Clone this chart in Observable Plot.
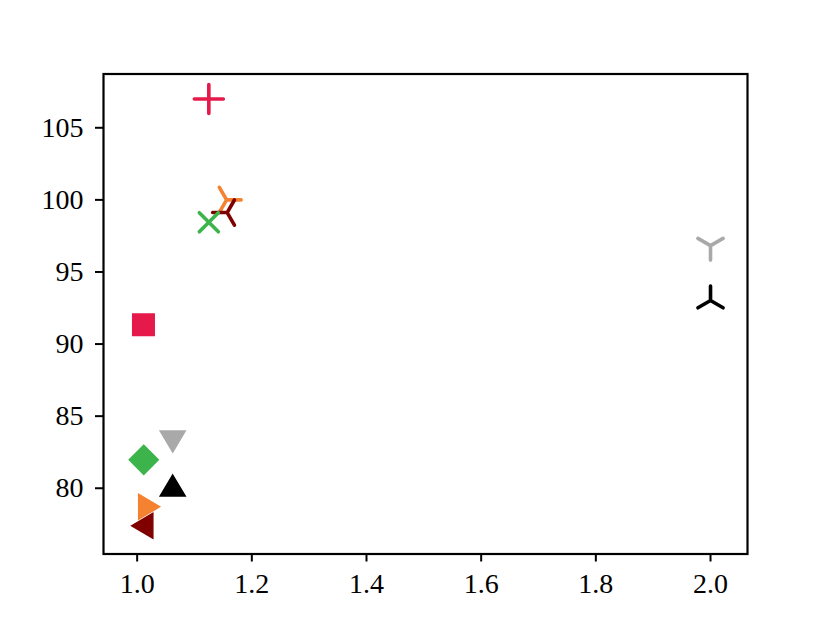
<!DOCTYPE html>
<html>
<head>
<meta charset="utf-8">
<script src="https://cdn.jsdelivr.net/npm/d3@7"></script>
<script src="https://cdn.jsdelivr.net/npm/@observablehq/plot@0.6"></script>
<style>
  html, body { margin: 0; padding: 0; background: white; }
</style>
</head>
<body>
<div id="chart"></div>
<script>
// Data, in drawing order
const markers = ["square", "diamond", "triangle_right", "triangle_left", "triangle_down", "triangle_up",
                 "plus", "tri_right", "tri_left", "x", "tri_down", "tri_up"];
const xs = [1.011, 1.0115, 1.021, 1.009, 1.062, 1.062,
            1.125, 1.156, 1.157, 1.125, 2.0, 2.0];
const ys = [91.34, 81.97, 78.72, 77.4, 83.24, 80.19,
            107.0, 100.0, 99.12, 98.45, 96.83, 93.02];
const colors = ["#e6194b", "#3cb44b", "#f58231", "#800000", "#a9a9a9", "#000000",
                "#e6194b", "#f58231", "#800000", "#3cb44b", "#a9a9a9", "#000000"];
const xTicks = [1.0, 1.2, 1.4, 1.6, 1.8, 2.0];
const yTicks = [80, 85, 90, 95, 100, 105];

// Marker shapes (matplotlib-like)
const filledSet = new Set(["square", "diamond", "triangle_right", "triangle_left", "triangle_down", "triangle_up"]);
function poly(pts) {
  return {draw(c) { c.moveTo(pts[0][0], pts[0][1]); for (let k = 1; k < pts.length; k++) c.lineTo(pts[k][0], pts[k][1]); c.closePath(); }};
}
function arms(vecs) {
  return {draw(c) { for (const [dx, dy] of vecs) { c.moveTo(0, 0); c.lineTo(dx, dy); } }};
}
const s = 10.75, d = 14.5, tw = 12.5, th = 10.5, ta = 14.5, pl = 14.5, xa = 9.5;
const c30 = Math.cos(Math.PI / 6), s30 = 0.5;
const symbols = {
  square: poly([[-s, -s], [s, -s], [s, s], [-s, s]]),
  diamond: poly([[0, -d], [d, 0], [0, d], [-d, 0]]),
  triangle_up: poly([[0, -th], [tw, th], [-tw, th]]),
  triangle_down: poly([[0, th], [tw, -th], [-tw, -th]]),
  triangle_right: poly([[th, 0], [-th, tw], [-th, -tw]]),
  triangle_left: poly([[-th, 0], [th, tw], [th, -tw]]),
  plus: {draw(c) { c.moveTo(-pl, 0); c.lineTo(pl, 0); c.moveTo(0, -pl); c.lineTo(0, pl); }},
  x: {draw(c) { c.moveTo(-xa, -xa); c.lineTo(xa, xa); c.moveTo(-xa, xa); c.lineTo(xa, -xa); }},
  tri_down: arms([[0, ta], [-ta * c30, -ta * s30], [ta * c30, -ta * s30]]),
  tri_up: arms([[0, -ta], [-ta * c30, ta * s30], [ta * c30, ta * s30]]),
  tri_left: arms([[-ta, 0], [ta * s30, -ta * c30], [ta * s30, ta * c30]]),
  tri_right: arms([[ta, 0], [-ta * s30, -ta * c30], [-ta * s30, ta * c30]])
};

const pointMarks = markers.map((m, i) => {
  const filled = filledSet.has(m);
  return Plot.dot([i], {
    x: (k) => xs[k],
    y: (k) => ys[k],
    symbol: symbols[m],
    r: 5,
    fill: filled ? colors[i] : "none",
    stroke: colors[i],
    strokeWidth: filled ? 1.5 : 3.6,
    strokeLinecap: "round",
    strokeLinejoin: "miter"
  });
});

const chart = Plot.plot({
  width: 830,
  height: 623,
  marginLeft: 103,
  marginRight: 83,
  marginTop: 73.5,
  marginBottom: 69.5,
  style: {fontFamily: "'Liberation Serif', serif", fontSize: "28px", background: "white", color: "black"},
  x: {domain: [0.9413, 2.0645], label: null},
  y: {domain: [75.44, 108.73], label: null},
  marks: [
    ...pointMarks,
    Plot.axisX(xTicks, {tickFormat: (v) => v.toFixed(1), tickSize: 8, tickPadding: 11, strokeWidth: 2, fontSize: 28, label: null}),
    Plot.axisY(yTicks, {tickFormat: (v) => String(v), tickSize: 8, tickPadding: 12, strokeWidth: 2, fontSize: 28, label: null}),
    Plot.frame({stroke: "black", strokeWidth: 2.2})
  ]
});
document.getElementById("chart").appendChild(chart);
</script>
</body>
</html>
